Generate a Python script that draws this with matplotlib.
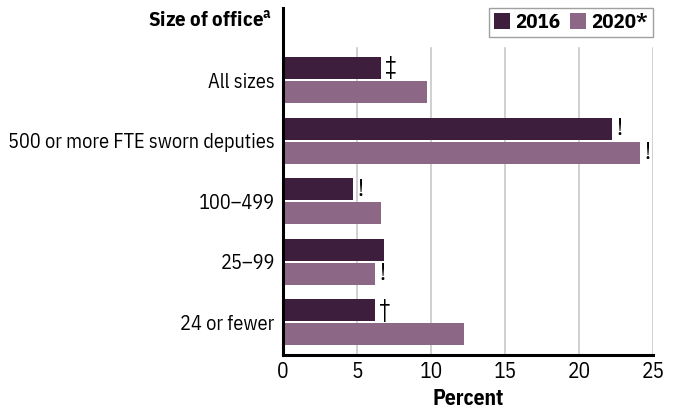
import matplotlib.pyplot as plt
import numpy as np

plt.rcParams['font.family'] = ['IBM Plex Sans Condensed', 'DejaVu Sans']
plt.rcParams['mathtext.fontset'] = 'custom'
plt.rcParams['mathtext.bf'] = 'IBM Plex Sans Condensed:bold'
plt.rcParams['mathtext.rm'] = 'IBM Plex Sans Condensed'

categories = ['All sizes', '500 or more FTE sworn deputies', '100\u2013499', '25\u201399', '24 or fewer']
pct_2016 = [6.6, 22.2, 4.7, 6.8, 6.2]
pct_2020 = [9.7, 24.1, 6.6, 6.2, 12.2]
notes_2016 = ['\u2021', '!', '!', '', '\u2020']
notes_2020 = ['', '!', '', '!', '']

c16 = '#3d1f3d'
c20 = '#8c6886'

fig = plt.figure(figsize=(6.77, 4.13), dpi=100)
ax = fig.add_axes([283/677, 58/413, 370/677, 347/413])

y = np.arange(len(categories))
h = 0.363
off = 0.2

# grid lines that stop below the legend area
for gx in [5, 10, 15, 20, 25]:
    ax.plot([gx, gx], [-0.53, 4.54], color='#c8c8c8', lw=1.2, zorder=0)

ax.barh(y - off, pct_2016, height=h, color=c16, label='2016', zorder=2)
ax.barh(y + off, pct_2020, height=h, color=c20, label='2020*', zorder=2)

for i in range(len(categories)):
    if notes_2016[i]:
        ax.text(pct_2016[i] + 0.3, y[i] - off, notes_2016[i], va='center', ha='left', fontsize=17)
    if notes_2020[i]:
        ax.text(pct_2020[i] + 0.3, y[i] + off, notes_2020[i], va='center', ha='left', fontsize=17)

ax.set_xlim(0, 25)
ax.set_ylim(4.54, -1.19)
ax.set_yticks(y)
ax.set_yticklabels(categories, fontsize=14.6)
ax.set_xticks([0, 5, 10, 15, 20, 25])
ax.tick_params(axis='x', labelsize=15.5, length=0, pad=4)
ax.tick_params(axis='y', length=0, pad=6)
ax.set_xlabel('Percent', fontsize=15.5, fontweight='bold', labelpad=4)

for s in ['top', 'right']:
    ax.spines[s].set_visible(False)
ax.spines['left'].set_linewidth(2.2)
ax.spines['bottom'].set_linewidth(2.2)

fig.text(272/677, 1 - 20/413, 'Size of office$^\\mathbf{a}$', ha='right', va='center',
         fontsize=15, fontweight='bold')

leg = ax.legend(loc='upper right', bbox_to_anchor=(1.0, 1.0), ncol=2,
                prop={'weight': 'bold', 'size': 15}, frameon=True, fancybox=False,
                handlelength=0.75, handleheight=0.75, handletextpad=0.25, columnspacing=0.5,
                borderpad=0.25, borderaxespad=0.0)
leg.get_frame().set_edgecolor('#888888')
leg.get_frame().set_linewidth(1.0)

fig.savefig('out.png', dpi=100)
